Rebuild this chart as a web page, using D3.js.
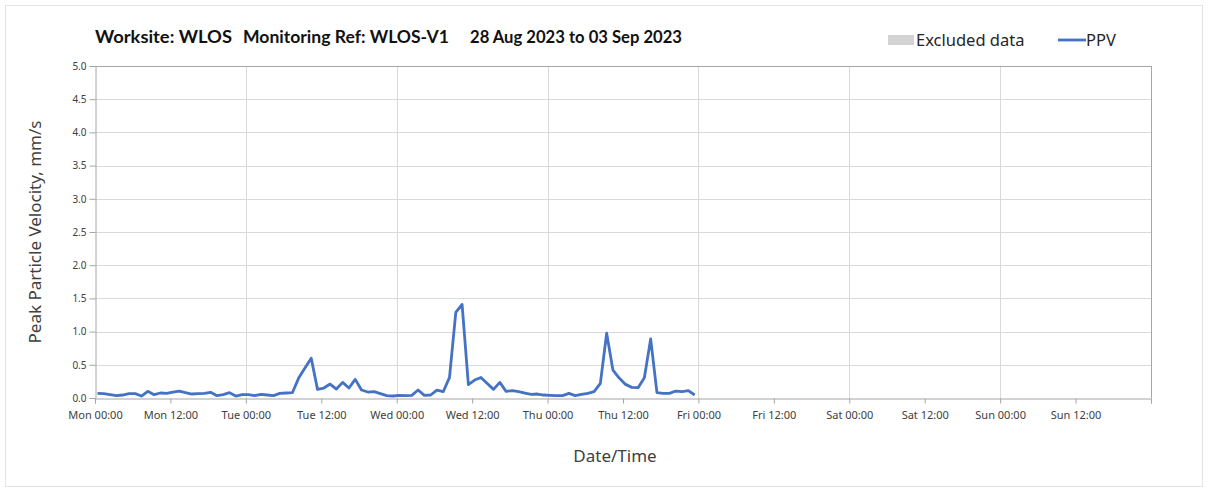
<!DOCTYPE html>
<html>
<head>
<meta charset="utf-8">
<script src="https://cdn.jsdelivr.net/npm/d3@7/dist/d3.min.js"></script>
<style>
  html, body { margin: 0; padding: 0; background: #fff; }
  svg { display: block; }
</style>
</head>
<body>
<svg id="chart" width="1208" height="492"></svg>
<script>
// ---- Data ----
const titleParts = ["Worksite: WLOS", "Monitoring Ref: WLOS-V1", "28 Aug 2023 to 03 Sep 2023"];
const yTickValues = [0, 0.5, 1.0, 1.5, 2.0, 2.5, 3.0, 3.5, 4.0, 4.5, 5.0];
const xTickLabels = ["Mon 00:00", "Mon 12:00", "Tue 00:00", "Tue 12:00", "Wed 00:00", "Wed 12:00",
  "Thu 00:00", "Thu 12:00", "Fri 00:00", "Fri 12:00", "Sat 00:00", "Sat 12:00", "Sun 00:00", "Sun 12:00"];
const legendLabels = ["Excluded data", "PPV"];
// Hourly PPV readings (mm/s), first reading Mon 28 Aug 2023 00:24
const ppvMon = [0.07, 0.065, 0.05, 0.035, 0.045, 0.065, 0.065, 0.03, 0.10, 0.05, 0.075, 0.07,
  0.09, 0.105, 0.08, 0.06, 0.065, 0.07, 0.085, 0.035, 0.05, 0.08, 0.03, 0.05];
const ppvTue = [0.05, 0.035, 0.055, 0.045, 0.035, 0.07, 0.075, 0.08, 0.30, 0.45, 0.60, 0.13,
  0.15, 0.21, 0.135, 0.235, 0.15, 0.28, 0.12, 0.09, 0.095, 0.065, 0.035, 0.03];
const ppvWed = [0.04, 0.035, 0.04, 0.12, 0.04, 0.045, 0.12, 0.095, 0.31, 1.29, 1.41, 0.20,
  0.27, 0.31, 0.22, 0.13, 0.235, 0.10, 0.11, 0.095, 0.075, 0.055, 0.06, 0.045];
const ppvThu = [0.04, 0.035, 0.035, 0.07, 0.035, 0.055, 0.07, 0.095, 0.22, 0.975, 0.42, 0.30,
  0.205, 0.16, 0.155, 0.305, 0.89, 0.08, 0.07, 0.07, 0.105, 0.095, 0.11, 0.045];

const ppv = [].concat(ppvMon, ppvTue, ppvWed, ppvThu);
const start = new Date(2023, 7, 28, 0, 0);
const end = new Date(2023, 8, 4, 0, 0);
const firstReading = new Date(2023, 7, 28, 0, 24);
const series = ppv.map((v, i) => ({ t: d3.timeHour.offset(firstReading, i), v }));

// ---- Layout ----
const svg = d3.select("#chart");
const m = { left: 95, right: 1151, top: 66, bottom: 398 };
const font = "'Noto Sans', 'Open Sans', sans-serif";
const textCol = "#404040";

// outer frame
svg.append("rect").attr("x", 5.5).attr("y", 5.5).attr("width", 1197).attr("height", 481)
  .attr("fill", "#fff").attr("stroke", "#e3e3e3");

const x = d3.scaleTime().domain([start, end]).range([m.left, m.right]);
const y = d3.scaleLinear().domain([0, 5]).range([m.bottom, m.top]);

// gridlines
const grid = svg.append("g");
grid.selectAll("line.h").data(yTickValues.filter(v => v > 0 && v < 5)).join("line")
  .attr("x1", m.left).attr("x2", m.right)
  .attr("y1", d => Math.round(y(d)) + 0.5).attr("y2", d => Math.round(y(d)) + 0.5)
  .attr("stroke", "#d9d9d9").attr("stroke-width", 1);
const dayTicks = d3.timeDay.range(d3.timeDay.offset(start, 1), end);
grid.selectAll("line.v").data(dayTicks).join("line")
  .attr("x1", d => Math.round(x(d)) + 0.5).attr("x2", d => Math.round(x(d)) + 0.5)
  .attr("y1", m.top).attr("y2", m.bottom)
  .attr("stroke", "#d9d9d9").attr("stroke-width", 1);

// frame top/right
svg.append("line").attr("x1", m.left).attr("x2", m.right + 0.5).attr("y1", m.top + 0.5).attr("y2", m.top + 0.5)
  .attr("stroke", "#a6a6a6");
svg.append("line").attr("x1", m.right + 0.5).attr("x2", m.right + 0.5).attr("y1", m.top).attr("y2", m.bottom)
  .attr("stroke", "#a6a6a6");

// Y axis
const yAxis = d3.axisLeft(y).tickValues(yTickValues).tickFormat(d3.format(".1f")).tickSize(6).tickPadding(3);
const gy = svg.append("g").attr("transform", `translate(${m.left + 0.5},0)`).call(yAxis);
gy.select(".domain").attr("stroke", "#a6a6a6");
gy.selectAll(".tick line").attr("stroke", "#a6a6a6");
gy.selectAll(".tick text").attr("font-family", font).attr("font-size", 10).attr("fill", textCol);

// X axis
const xTicks = d3.timeHour.every(12).range(start, d3.timeHour.offset(end, 1));
const xAxis = d3.axisBottom(x).tickValues(xTicks)
  .tickFormat((d, i) => i < xTickLabels.length ? xTickLabels[i] : "")
  .tickSize(5).tickPadding(8);
const gx = svg.append("g").attr("transform", `translate(0,${m.bottom + 0.5})`).call(xAxis);
gx.select(".domain").attr("stroke", "#a6a6a6");
gx.selectAll(".tick line").attr("stroke", "#a6a6a6");
gx.selectAll(".tick text").attr("font-family", font).attr("font-size", 11).attr("fill", textCol);

// PPV line
svg.append("path").datum(series)
  .attr("fill", "none").attr("stroke", "#4472C4").attr("stroke-width", 2.8)
  .attr("stroke-linejoin", "round")
  .attr("d", d3.line().x(d => x(d.t)).y(d => y(d.v)));

// Title
const titleX = [95, 243, 470];
const titleW = [137, 206, 212];
svg.append("g").selectAll("text").data(titleParts).join("text")
  .attr("x", (d, i) => titleX[i]).attr("y", 43)
  .attr("font-family", "Lato, 'Open Sans', sans-serif").attr("font-weight", "bold")
  .attr("font-size", 16.5).attr("fill", "#111")
  .attr("textLength", (d, i) => titleW[i]).attr("lengthAdjust", "spacingAndGlyphs")
  .text(d => d);

// Legend
svg.append("rect").attr("x", 888).attr("y", 35).attr("width", 26).attr("height", 10).attr("fill", "#d3d3d3");
svg.append("text").attr("x", 916).attr("y", 46).attr("font-family", font).attr("font-size", 16.5)
  .attr("fill", "#262626").text(legendLabels[0]);
svg.append("line").attr("x1", 1058).attr("x2", 1086).attr("y1", 40).attr("y2", 40)
  .attr("stroke", "#4472C4").attr("stroke-width", 2.8);
svg.append("text").attr("x", 1086).attr("y", 46).attr("font-family", font).attr("font-size", 16.5)
  .attr("fill", "#262626").text(legendLabels[1]);

// Axis titles
svg.append("text").attr("transform", "translate(41,232) rotate(-90)").attr("text-anchor", "middle")
  .attr("font-family", font).attr("font-size", 17).attr("fill", textCol).text("Peak Particle Velocity, mm/s");
svg.append("text").attr("x", 615).attr("y", 462).attr("text-anchor", "middle")
  .attr("font-family", font).attr("font-size", 17).attr("fill", textCol).text("Date/Time");
</script>
</body>
</html>
